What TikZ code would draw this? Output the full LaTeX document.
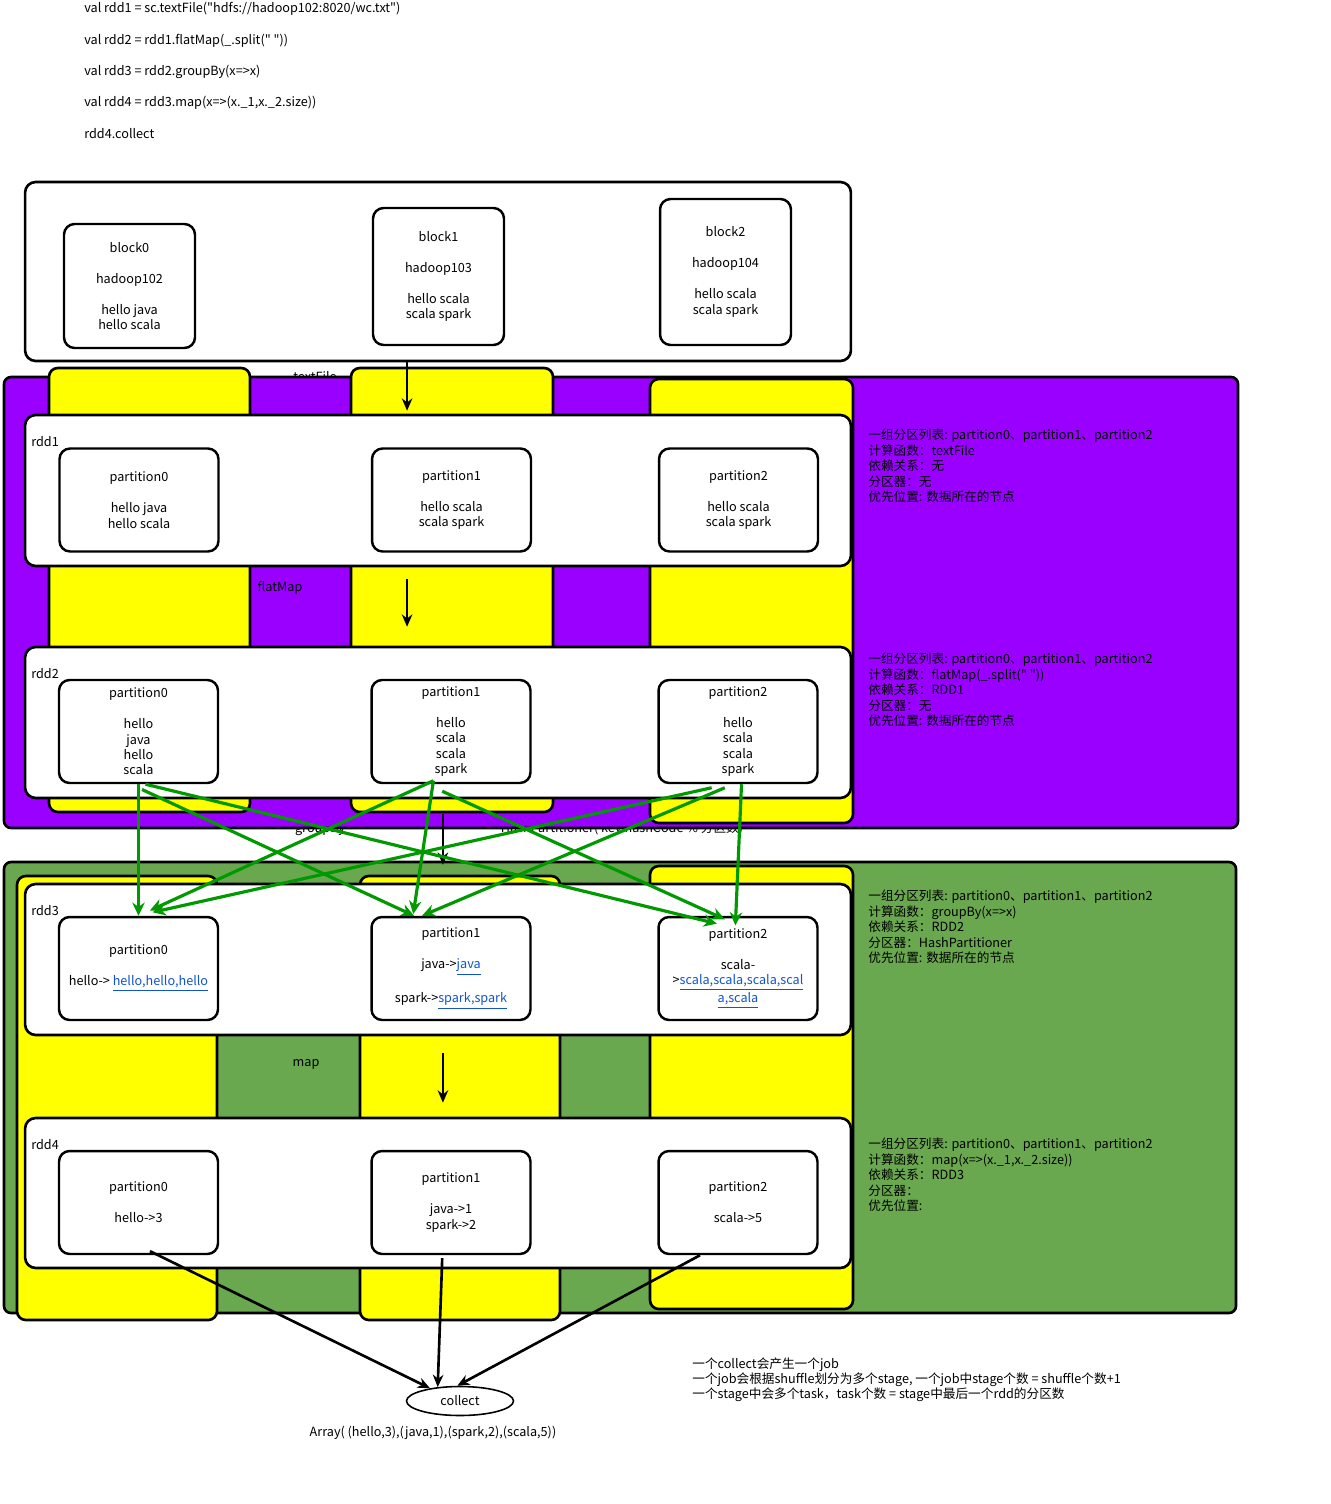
\documentclass[tikz,border=0pt]{standalone}
\usepackage{fontspec}
\setmainfont{Noto Sans CJK SC}[Ligatures=TeXOff]
\usepackage{tikz}
\usetikzlibrary{arrows.meta,shapes.geometric}
\definecolor{stagepurple}{RGB}{153,0,255}
\definecolor{stagegreen}{RGB}{106,168,79}
\definecolor{colyellow}{RGB}{255,255,0}
\definecolor{depgreen}{RGB}{0,153,0}
\definecolor{linkblue}{RGB}{17,85,204}
\newcommand{\lnk}[1]{\textcolor{linkblue}{\underline{#1}}}

\begin{document}
\begin{tikzpicture}[x=0.02cm, y=-0.02cm, every node/.style={font=\fontsize{7.2}{8.8}\selectfont, inner sep=0pt},
  stage/.style={draw, line width=1.5pt, rounded corners=4pt},
  col/.style={draw, fill=colyellow, line width=1.5pt, rounded corners=5pt},
  rddbox/.style={draw, fill=white, line width=1.5pt, rounded corners=6pt, minimum width=16.52cm, minimum height=3.02cm},
  part/.style={draw, fill=white, line width=1.4pt, rounded corners=6pt, minimum width=3.18cm, minimum height=2.06cm, align=center},
  blk/.style={part, minimum width=2.62cm},
  info/.style={anchor=north west, align=left},
  flow/.style={-{Stealth[length=7pt,width=6pt]}, line width=1.5pt},
  dep/.style={-{Stealth[length=7.5pt,width=7pt]}, depgreen, line width=1.8pt}]
  \useasboundingbox (0,0) rectangle (1330,1504);
  % code
  \node[anchor=west] (code1) at (84,9) {val rdd1 = sc.textFile("hdfs://hadoop102:8020/wc.txt")};
  \node[anchor=west] (code2) at (84,41) {val rdd2 = rdd1.flatMap(\_.split(" "))};
  \node[anchor=west] (code3) at (84,72) {val rdd3 = rdd2.groupBy(x=>x)};
  \node[anchor=west] (code4) at (84,103) {val rdd4 = rdd3.map(x=>(x.\_1,x.\_2.size))};
  \node[anchor=west] (code5) at (84,134) {rdd4.collect};
  % hdfs blocks
  \node[rddbox, minimum height=3.58cm] (hdfs) at (438,271.5) {};
  \node[blk, minimum height=2.48cm] (b0) at (129.5,286) {block0\\[8.8pt]hadoop102\\[8.8pt]hello java\\hello scala};
  \node[blk, minimum height=2.74cm] (b1) at (438.5,276.5) {block1\\[8.8pt]hadoop103\\[8.8pt]hello scala\\scala spark};
  \node[blk, minimum height=2.92cm] (b2) at (725.5,272) {block2\\[8.8pt]hadoop104\\[8.8pt]hello scala\\scala spark};
  % operator labels (partly covered)
  \node (lbltext) at (315,377) {textFile};
  \node (lblgroup) at (320,829) {groupBy};
  \node (lblhash) at (622,829) {HashPartitioner( key.hashCode \% 分区数)};
  % stage 1
  \draw[stage, fill=stagepurple] (4,377) rectangle (1238,828);
  \draw[col] (49,368) rectangle (250,812);
  \draw[col] (351,368) rectangle (553,812);
  \draw[col] (650,379) rectangle (853,823);
  \node[rddbox] (rdd1) at (438,490.5) {};
  \node[anchor=west] (rdd1lbl) at (31,442) {rdd1};
  \node[part] (r1p0) at (139,500) {partition0\\[8.8pt]hello java\\hello scala};
  \node[part] (r1p1) at (451.5,500) {partition1\\[8.8pt]hello scala\\scala spark};
  \node[part] (r1p2) at (738.5,500) {partition2\\[8.8pt]hello scala\\scala spark};
  \node (lblflat) at (280,588) {flatMap};
  \node[rddbox] (rdd2) at (438,722.5) {};
  \node[anchor=west] (rdd2lbl) at (31,674) {rdd2};
  \node[part] (r2p0) at (138.5,731.5) {partition0\\[8.8pt]hello\\java\\hello\\scala};
  \node[part] (r2p1) at (451,731.5) {partition1\\[8.8pt]hello\\scala\\scala\\spark};
  \node[part] (r2p2) at (738,731.5) {partition2\\[8.8pt]hello\\scala\\scala\\spark};
  \node[info] (info1) at (868,429) {一组分区列表: partition0、partition1、partition2\\计算函数：textFile\\依赖关系：无\\分区器：无\\优先位置: 数据所在的节点};
  \node[info] (info2) at (868,653) {一组分区列表: partition0、partition1、partition2\\计算函数：flatMap(\_.split(" "))\\依赖关系：RDD1\\分区器：无\\优先位置: 数据所在的节点};
  % stage 2
  \draw[stage, fill=stagegreen] (4,862) rectangle (1236,1313);
  \draw[col] (17,876) rectangle (217,1320);
  \draw[col] (360,876) rectangle (560,1320);
  \draw[col] (650,866) rectangle (853,1309);
  \node[rddbox] (rdd3) at (438,959.5) {};
  \node[anchor=west] (rdd3lbl) at (31,911) {rdd3};
  \node[part] (r3p0) at (138.5,968.5) {partition0\\[8.8pt]hello-> \lnk{hello,hello,hello}};
  \node[part] (r3p1) at (451,968.5) {partition1\\[8.8pt]java->\lnk{java}\\[8.8pt]spark->\lnk{spark,spark}};
  \node[part] (r3p2) at (738,968.5) {partition2\\[8.8pt]scala-\\>\lnk{scala,scala,scala,scal}\\\lnk{a,scala}};
  \node (lblmap) at (306,1064) {map};
  \node[rddbox, minimum height=3cm] (rdd4) at (438,1193) {};
  \node[anchor=west] (rdd4lbl) at (31,1145) {rdd4};
  \node[part] (r4p0) at (138.5,1202.5) {partition0\\[8.8pt]hello->3};
  \node[part] (r4p1) at (451,1202.5) {partition1\\[8.8pt]java->1\\spark->2};
  \node[part] (r4p2) at (738,1202.5) {partition2\\[8.8pt]scala->5};
  \node[info] (info3) at (868,890) {一组分区列表: partition0、partition1、partition2\\计算函数：groupBy(x=>x)\\依赖关系：RDD2\\分区器：HashPartitioner\\优先位置: 数据所在的节点};
  \node[info] (info4) at (868,1138) {一组分区列表: partition0、partition1、partition2\\计算函数：map(x=>(x.\_1,x.\_2.size))\\依赖关系：RDD3\\分区器：\\优先位置:};
  % collect
  \node[ellipse, draw, line width=0.9pt, fill=white, minimum width=2.14cm, minimum height=0.58cm] (coll) at (460,1401) {collect};
  \node (result) at (433,1433) {Array( (hello,3),(java,1),(spark,2),(scala,5))};
  \node[info] (notes) at (692,1357) {一个collect会产生一个job\\一个job会根据shuffle划分为多个stage, 一个job中stage个数 = shuffle个数+1\\一个stage中会多个task，task个数 = stage中最后一个rdd的分区数};
  % arrows
  \draw[flow] ([xshift=-17.6pt]hdfs.south) -- ([xshift=-17.6pt,yshift=1.7pt]rdd1.north);
  \draw[flow] ([xshift=-17.6pt,yshift=-6.8pt]rdd1.south) -- ([xshift=-17.6pt,yshift=10.8pt]rdd2.north);
  \draw[flow] ([xshift=2.8pt,yshift=-8.5pt]rdd2.south) -- ([xshift=2.8pt,yshift=10.2pt]rdd3.north);
  \draw[flow] ([xshift=2.8pt,yshift=-9.7pt]rdd3.south) -- ([xshift=2.8pt,yshift=8pt]rdd4.north);
  \draw[dep] (r2p0.south) -- (r3p0.north);
  \draw[dep] ([xshift=4pt]r2p0.south) -- ([xshift=-12pt,yshift=-4.5pt]r3p2.north);
  \draw[dep] ([xshift=2pt,yshift=-3pt]r2p0.south) -- ([xshift=-21pt]r3p1.north);
  \draw[dep] ([xshift=-10pt,yshift=2pt]r2p1.south) -- ([xshift=6.5pt,yshift=3pt]r3p0.north);
  \draw[dep] ([xshift=-10pt,yshift=2pt]r2p1.south) -- ([xshift=-21.5pt,yshift=1pt]r3p1.north);
  \draw[dep] ([xshift=-5pt,yshift=-4pt]r2p1.south) -- ([xshift=-7.5pt,yshift=-2pt]r3p2.north);
  \draw[dep] ([xshift=-15pt,yshift=-2pt]r2p2.south) -- ([xshift=8pt,yshift=2pt]r3p0.north);
  \draw[dep] ([xshift=-7.5pt,yshift=-2pt]r2p2.south) -- ([xshift=-16.5pt]r3p1.north);
  \draw[dep] ([xshift=2pt]r2p2.south) -- ([xshift=-1.5pt,yshift=-5.5pt]r3p2.north);
  \draw[flow] ([xshift=6.5pt,yshift=2.3pt]r4p0.south) -- (coll.157);
  \draw[flow] ([xshift=-5pt,yshift=-1.7pt]r4p1.south) -- (coll.148);
  \draw[flow] ([xshift=-21.6pt]r4p2.south) -- (coll.100);
\end{tikzpicture}
\end{document}
